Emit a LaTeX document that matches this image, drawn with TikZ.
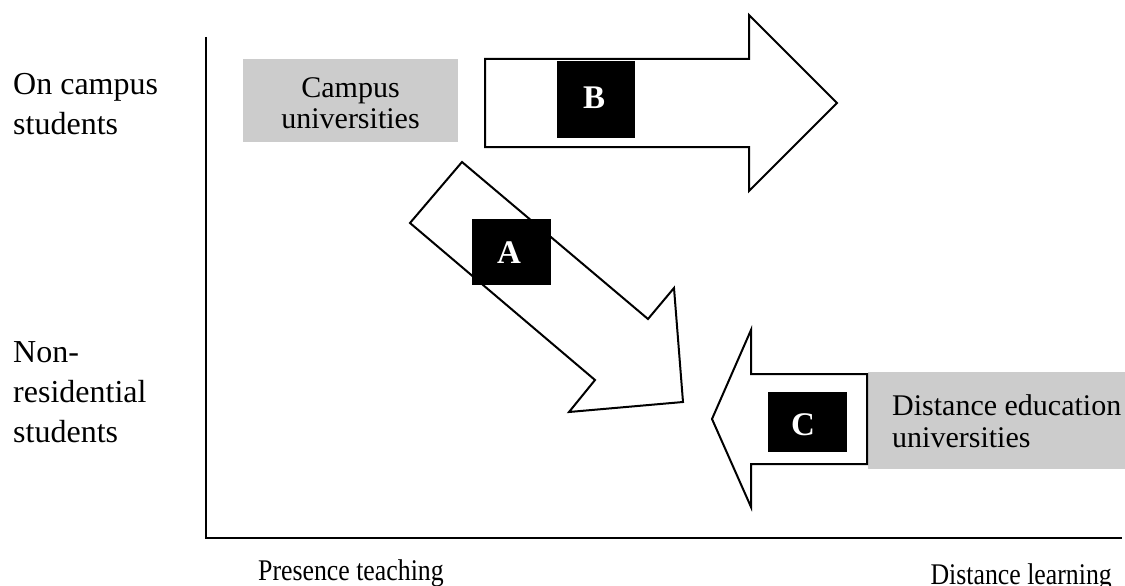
\documentclass[tikz,border=0pt]{standalone}
\usepackage{fontspec}
\setmainfont{Liberation Serif}
\definecolor{boxgray}{RGB}{204,204,204}
\tikzset{
  bigarrow/.style={draw=black, line width=2pt, fill=white, line join=miter},
  graybox/.style={fill=boxgray, draw=none, inner sep=0pt},
  blackbox/.style={fill=black, draw=none, inner sep=0pt},
  letter/.style={text=white, inner sep=0pt, font=\bfseries\fontsize{33}{33}\selectfont},
  lbl/.style={inner sep=0pt, font=\fontsize{32}{40}\selectfont},
  boxlbl/.style={inner sep=0pt, font=\fontsize{30}{32}\selectfont},
  axislbl/.style={inner sep=0pt, xscale=0.86, font=\fontsize{30}{32}\selectfont},
  axisline/.style={line width=2.3pt}
}
\begin{document}
\begin{tikzpicture}[x=1pt,y=-1pt]
\useasboundingbox (0,0) rectangle (1125,586);
% axes
\coordinate (ytop) at (206,37);
\coordinate (origin) at (206,538);
\coordinate (xend) at (1122,538);
\draw[axisline] (ytop) -- (origin) -- (xend);
% axis labels
\node[lbl, anchor=base west] (oncampus) at (13,95) {\begin{tabular}[t]{@{}l@{}}On campus\\students\end{tabular}};
\node[lbl, anchor=base west] (nonres) at (13,362) {\begin{tabular}[t]{@{}l@{}}Non-\\residential\\students\end{tabular}};
\node[axislbl, anchor=base west] (presence) at (258,580) {Presence teaching};
\node[axislbl, anchor=base east] (distlearn) at (1112,584) {Distance learning};
% gray boxes
\path[graybox] (243,59) rectangle (458,142);
\node[boxlbl, anchor=base] (campus) at (350.5,97) {\begin{tabular}[t]{@{}c@{}}Campus\\universities\end{tabular}};
\path[graybox] (868,372) rectangle (1125,469);
\node[boxlbl, anchor=base west] (distedu) at (892,415) {\begin{tabular}[t]{@{}l@{}}Distance education\\universities\end{tabular}};
% arrows
\draw[bigarrow] (485,59) -- (749,59) -- (749,15) -- (837,103) -- (749,191) -- (749,147) -- (485,147) -- cycle;
\draw[bigarrow] (462,162) -- (648,319) -- (674,288) -- (683,402) -- (569,412) -- (595,380) -- (410,223) -- cycle;
\draw[bigarrow] (867,374) -- (751,374) -- (751,330) -- (712,419) -- (751,507) -- (751,464) -- (867,464) -- cycle;
% black boxes
\path[blackbox] (557,61) rectangle (635,138);
\node[letter] (B) at (594,98) {B};
\path[blackbox] (472,219) rectangle (551,285);
\node[letter] (A) at (509,253) {A};
\path[blackbox] (768,392) rectangle (847,452);
\node[letter] (C) at (803,425) {C};
\end{tikzpicture}
\end{document}
